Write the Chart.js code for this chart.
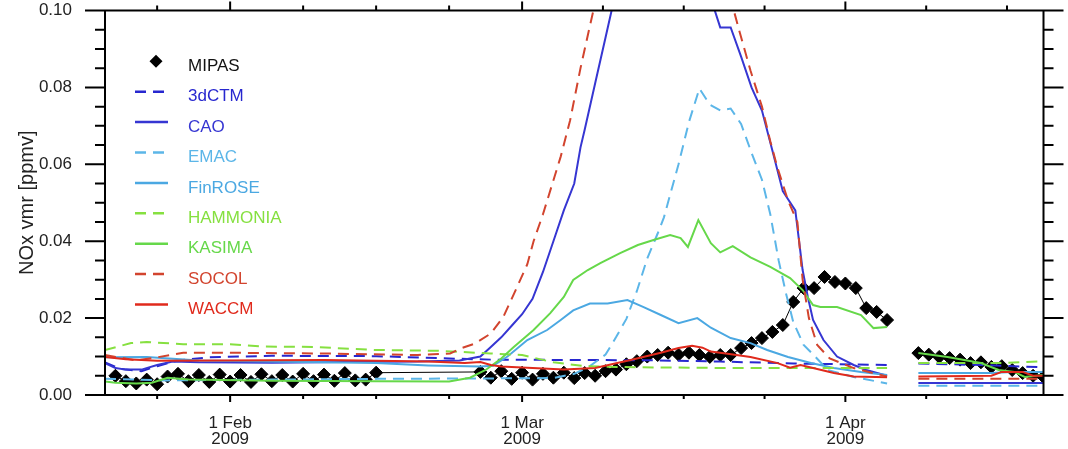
<!DOCTYPE html>
<html><head><meta charset="utf-8">
<script src="https://cdn.jsdelivr.net/npm/chart.js@4/dist/chart.umd.min.js"></script>
<style>html,body{margin:0;padding:0;background:#fff}#wrap{width:1068px;height:449px}</style>
</head><body><div id="wrap"><canvas id="c" width="1068" height="449"></canvas></div>
<script>
// x values are days since 1 Jan 2009 (1 Jan = 0)
const xMin = 19, xMax = 109;
const majorDays = [31, 59, 90];
const majorLabels = [["1 Feb","2009"],["1 Mar","2009"],["1 Apr","2009"]];
const minorDays = [24, 38, 45, 52, 66.75, 74.5, 82.25, 97.75, 105.5];
const yTicks = [0, 0.02, 0.04, 0.06, 0.08, 0.10];

const mipasDays = [20,21,22,23,24,25,26,27,28,29,30,31,32,33,34,35,36,37,38,39,40,41,42,43,44,45,
  55,56,57,58,59,60,61,62,63,64,65,66,67,68,69,70,71,72,73,74,75,76,77,78,79,80,81,82,83,84,85,86,87,88,89,90,91,92,93,94,
  95.5,97,98,99,100,101,102,103,104,105,106,107,108,109];
const mipasVals = [0.0050,0.0036,0.0030,0.0040,0.0028,0.0048,0.0055,0.0036,0.0052,0.0034,0.0053,0.0035,0.0052,0.0034,0.0054,0.0036,0.0052,0.0035,0.0055,0.0036,0.0053,0.0037,0.0057,0.0038,0.0040,0.0058,
  0.0060,0.0045,0.0062,0.0042,0.0058,0.0040,0.0055,0.0045,0.0058,0.0044,0.0057,0.0050,0.0062,0.0066,0.0080,0.0088,0.0100,0.0104,0.0110,0.0105,0.0110,0.0104,0.0099,0.0104,0.0104,0.0122,0.0135,0.0148,0.0164,0.0182,0.0242,0.0278,0.0278,0.0307,0.0294,0.0290,0.0278,0.0226,0.0216,0.0195,
  null,0.0109,0.0105,0.0099,0.0096,0.0092,0.0083,0.0085,0.0073,0.0075,0.0065,0.0057,0.0050,0.0047];

const ctmDays = [19,20.5,22.5,24,26,29,35,45,52,56,65,72,78,85,94,95.5,97,103,109];
const ctmVals = [0.0085,0.0068,0.0062,0.0075,0.009,0.0098,0.0102,0.0101,0.0095,0.0092,0.0091,0.009,0.0087,0.0082,0.0078,null,0.0082,0.0078,0.0072];

const caoDays = [19,20,21,22.5,24,25.5,28,35,42,49,53,55,56,57,58,59,60,61,62,63,64,64.6,65,66,67,68,70,73,76,77,78,79,80,81,82,83,84,85.2,85.9,86.4,86.9,87.9,89.2,90.8,92,94,95.5,97,109];
const caoVals = [0.0083,0.007,0.0066,0.0066,0.0078,0.0087,0.0085,0.0084,0.0086,0.0087,0.009,0.010,0.0125,0.015,0.018,0.021,0.025,0.032,0.040,0.048,0.055,0.0644,0.069,0.081,0.093,0.105,0.125,0.135,0.125,0.104,0.0956,0.0956,0.088,0.080,0.074,0.0636,0.053,0.048,0.0325,0.0255,0.0195,0.0143,0.0100,0.0078,0.0065,0.005,null,0.0031,0.0031];

const emacDays = [19,25,35,45,55,62,64,65.5,67,68,69,70,71,72,72.6,74,75,76,77,78,79,80,81,82,82.8,83.6,84.3,85,86,87,88.3,90.8,94,95.5,97,109];
const emacVals = [0.0042,0.0038,0.004,0.0042,0.0043,0.0044,0.0055,0.0075,0.0105,0.015,0.0198,0.027,0.0355,0.042,0.0462,0.060,0.071,0.0797,0.0755,0.074,0.0745,0.0705,0.063,0.056,0.047,0.035,0.0265,0.019,0.013,0.0103,0.0065,0.0047,0.003,null,0.0024,0.0024];

const finDays = [19,23,28,38,45,50,55,56.2,57.6,59.5,61.4,62.7,63.9,65.5,67.2,69.1,70.6,72.3,74,75.8,77.1,79,80.9,82.5,84.5,86.7,88.9,91.5,94,95.5,97,104,106,109];
const finVals = [0.0098,0.0099,0.009,0.0086,0.0083,0.0077,0.0074,0.0076,0.01,0.0143,0.0169,0.0195,0.022,0.0238,0.0238,0.0247,0.0229,0.0208,0.0187,0.02,0.0175,0.0148,0.0135,0.0117,0.0099,0.0083,0.007,0.006,0.0052,null,0.0057,0.0057,0.006,0.006];

const hamDays = [19,21.5,23,26.5,31,34,39,45,51,56,59,62,65,70,80,88,94,95.5,97,105,109];
const hamVals = [0.0117,0.0135,0.0138,0.0132,0.0132,0.0126,0.0125,0.0117,0.0115,0.0108,0.0104,0.0085,0.0075,0.0072,0.007,0.007,0.007,null,0.0083,0.0083,0.0088];

const kasDays = [19,20,22,23.5,25,27,35,45,52,54,55.5,57,58.2,60.1,61.7,63,63.9,65.3,66.5,68.4,70.1,71.6,73.2,74.2,74.9,75.9,77.1,78,79.2,80.9,82.8,84.7,85.9,86.9,87.6,89.2,91.5,92.7,94,95.5,97,99.8,103,104.7,106.2,107.2,109];
const kasVals = [0.0035,0.0032,0.003,0.0032,0.0045,0.004,0.0037,0.0036,0.0035,0.0045,0.0065,0.0095,0.0125,0.0169,0.0213,0.0255,0.0299,0.0325,0.0343,0.0369,0.039,0.0403,0.0416,0.0408,0.0385,0.0455,0.0395,0.0371,0.0387,0.0358,0.0333,0.0304,0.0273,0.0234,0.0229,0.0229,0.0208,0.0174,0.0177,null,0.0109,0.0099,0.0083,0.0065,0.006,0.0047,0.0052];

const socDays = [19,20.5,22,24,26.5,30,40,49,52.1,53.1,54.5,56,57.2,58.5,59.5,60.1,61,62.7,63.6,64.6,65.5,66.5,70,76,79.3,79.9,80.9,82,82.8,83.5,84.5,85.4,85.9,86.5,87.3,88.5,90.8,94,95.5,97,109];
const socVals = [0.0104,0.0097,0.009,0.0098,0.011,0.011,0.0108,0.0104,0.0108,0.0121,0.0134,0.016,0.0203,0.028,0.034,0.040,0.047,0.062,0.0714,0.085,0.096,0.108,0.14,0.14,0.1,0.094,0.0844,0.075,0.066,0.059,0.0506,0.045,0.03,0.02,0.013,0.0095,0.007,0.0048,null,0.0042,0.0042];

const wacDays = [19,21,24,30,40,50,53.5,55,56,57,60,63,66,69.4,72.3,74,75.3,76.3,77.1,78.7,80.9,83.5,84.7,85.7,86.9,88.9,90.8,94,95.5,97,104,105,107,108,109];
const wacVals = [0.0099,0.0093,0.0089,0.009,0.0091,0.0087,0.0083,0.0086,0.0078,0.0074,0.007,0.0066,0.007,0.0091,0.011,0.0122,0.0128,0.0123,0.0113,0.0107,0.0099,0.0083,0.0071,0.0078,0.007,0.0057,0.0048,0.0046,null,0.0048,0.005,0.006,0.006,0.005,0.005];

const pts = (d, v) => d.map((x, i) => ({x: x, y: v[i]}));
const DASH = [11, 7];
const FONT = "'Liberation Sans', Arial, Helvetica, sans-serif";

function model(label, days, vals, color, dashed, order) {
  return {label, data: pts(days, vals), borderColor: color, backgroundColor: color,
    borderWidth: 2, borderDash: dashed ? DASH : [], pointRadius: 0, tension: 0,
    fill: false, spanGaps: false, order};
}

const datasets = [
  {label: 'MIPAS', data: pts(mipasDays, mipasVals), borderColor: '#000', backgroundColor: '#000',
   borderWidth: 1, pointStyle: 'rectRot', pointRadius: 6.5, pointBorderWidth: 1,
   pointBackgroundColor: '#000', pointBorderColor: '#000', showLine: true, spanGaps: false, order: 20},
  model('3dCTM', ctmDays, ctmVals, '#2727cf', true, 9),
  model('CAO', caoDays, caoVals, '#3636d2', false, 8),
  model('EMAC', emacDays, emacVals, '#5cb6e8', true, 7),
  model('FinROSE', finDays, finVals, '#4ba8e2', false, 6),
  model('HAMMONIA', hamDays, hamVals, '#86e040', true, 5),
  model('KASIMA', kasDays, kasVals, '#66d84a', false, 4),
  model('SOCOL', socDays, socVals, '#d2442e', true, 3),
  model('WACCM', wacDays, wacVals, '#e02a1c', false, 2)
];

const framePlugin = {
  id: 'frame',
  afterDatasetsDraw(chart) {
    const {ctx, chartArea: a, scales: {x, y}} = chart;
    ctx.save();
    ctx.strokeStyle = '#000';
    ctx.lineWidth = 2;
    ctx.beginPath();
    ctx.moveTo(a.left - 20, a.top); ctx.lineTo(a.right + 20, a.top);
    ctx.moveTo(a.left - 20, a.bottom); ctx.lineTo(a.right + 20, a.bottom);
    ctx.moveTo(a.left, a.top); ctx.lineTo(a.left, a.bottom);
    ctx.moveTo(a.right, a.top); ctx.lineTo(a.right, a.bottom);
    for (let k = 0; k <= 20; k++) {
      const py = y.getPixelForValue(k * 0.005);
      const len = (k % 4 === 0) ? 20 : 10;
      ctx.moveTo(a.left - len, py); ctx.lineTo(a.left, py);
      ctx.moveTo(a.right, py); ctx.lineTo(a.right + len, py);
    }
    majorDays.forEach(d => {
      const px = x.getPixelForValue(d);
      ctx.moveTo(px, a.bottom); ctx.lineTo(px, a.bottom + 7);
      ctx.moveTo(px, a.top); ctx.lineTo(px, a.top - 9);
    });
    minorDays.forEach(d => {
      const px = x.getPixelForValue(d);
      ctx.moveTo(px, a.bottom); ctx.lineTo(px, a.bottom + 4);
      ctx.moveTo(px, a.top); ctx.lineTo(px, a.top - 5);
    });
    ctx.stroke();

    // legend
    const rowY0 = 66.3, rowStep = 30.4;
    ctx.font = '17px ' + FONT;
    ctx.textAlign = 'left';
    ctx.textBaseline = 'middle';
    chart.data.datasets.forEach((ds, i) => {
      const ty = rowY0 + i * rowStep;
      const sy = ty - 5;
      if (ds.label === 'MIPAS') {
        ctx.fillStyle = '#000';
        ctx.beginPath();
        ctx.moveTo(156, sy - 6.5); ctx.lineTo(162.5, sy); ctx.lineTo(156, sy + 6.5); ctx.lineTo(149.5, sy);
        ctx.closePath(); ctx.fill();
        ctx.fillStyle = '#111';
      } else {
        ctx.strokeStyle = ds.borderColor;
        ctx.lineWidth = 2.5;
        ctx.setLineDash(ds.borderDash && ds.borderDash.length ? ds.borderDash : []);
        ctx.beginPath();
        ctx.moveTo(135, sy); ctx.lineTo(168, sy);
        ctx.stroke();
        ctx.setLineDash([]);
        ctx.fillStyle = ds.borderColor;
      }
      ctx.fillText(ds.label, 188, ty);
    });
    ctx.restore();
  }
};

new Chart(document.getElementById('c'), {
  type: 'line',
  data: {datasets},
  options: {
    responsive: false,
    animation: false,
    devicePixelRatio: 1,
    layout: {padding: {top: 10.5, right: 24.5, left: 0, bottom: 0}},
    plugins: {legend: {display: false}, tooltip: {enabled: false}},
    scales: {
      x: {
        type: 'linear', min: xMin, max: xMax,
        afterBuildTicks: s => { s.ticks = majorDays.map(v => ({value: v})); },
        afterFit: s => { s.height = 54; s.paddingLeft = 0; s.paddingRight = 0; },
        grid: {display: false}, border: {display: false},
        ticks: {
          autoSkip: false, maxRotation: 0, padding: 12, color: '#222',
          font: {family: FONT, size: 17, lineHeight: 0.95},
          callback: v => { const i = majorDays.indexOf(v); return i >= 0 ? majorLabels[i] : ''; }
        }
      },
      y: {
        type: 'linear', min: 0, max: 0.1,
        afterBuildTicks: s => { s.ticks = yTicks.map(v => ({value: v})); },
        afterFit: s => { s.width = 105; s.paddingTop = 0; s.paddingBottom = 0; },
        grid: {display: false}, border: {display: false},
        ticks: {padding: 25, color: '#222', font: {family: FONT, size: 17},
          callback: v => Number(v).toFixed(2)},
        title: {display: true, text: 'NOx vmr [ppmv]', color: '#222',
          font: {family: FONT, size: 20}, padding: {top: 15, bottom: 0}}
      }
    }
  },
  plugins: [framePlugin]
});
</script>
</body></html>
